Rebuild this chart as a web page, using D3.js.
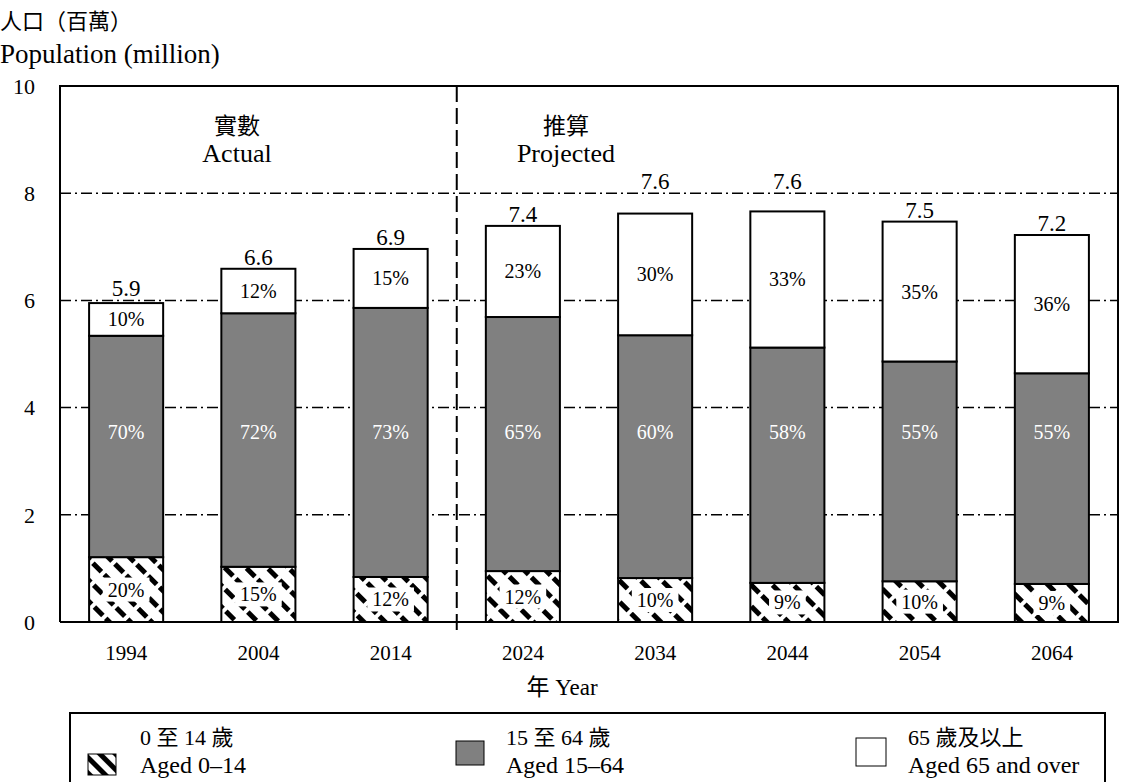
<!DOCTYPE html>
<meta charset="utf-8">
<head>
<style>
  body { margin: 0; background: #fff; }
  svg text { font-family: "Liberation Serif", "Noto Sans CJK TC", serif; fill: #000; }
</style>
</head>
<body>
<script src="https://cdn.jsdelivr.net/npm/d3@7"></script>
<script>

// population in millions
var years = ["1994", "2004", "2014", "2024", "2034", "2044", "2054", "2064"];
var aged0to14 = [1.21, 1.03, 0.84, 0.95, 0.82, 0.73, 0.76, 0.71];
var aged15to64 = [4.13, 4.73, 5.02, 4.74, 4.53, 4.39, 4.10, 3.93];
var aged65plus = [0.61, 0.83, 1.10, 1.70, 2.27, 2.54, 2.61, 2.58];
var totalLabels = ["5.9", "6.6", "6.9", "7.4", "7.6", "7.6", "7.5", "7.2"];
var pct0to14 = ["20%", "15%", "12%", "12%", "10%", "9%", "10%", "9%"];
var pct15to64 = ["70%", "72%", "73%", "65%", "60%", "58%", "55%", "55%"];
var pct65plus = ["10%", "12%", "15%", "23%", "30%", "33%", "35%", "36%"];
var yTicks = [0, 2, 4, 6, 8, 10];
var gridTicks = [2, 4, 6, 8];
var legendZh = ["0 至 14 歲", "15 至 64 歲", "65 歲及以上"];
var legendEn = ["Aged 0\u201314", "Aged 15\u201364", "Aged 65 and over"];

var W = 1121, H = 782;
var plotL = 60, plotR = 1118, plotT = 86, plotB = 622;

var svg = d3.select("body").append("svg")
    .attr("width", W)
    .attr("height", H);

var defs = svg.append("defs");
// broken diagonal stripes for the 0-14 part
var hatch = defs.append("pattern")
    .attr("id", "hatch")
    .attr("patternUnits", "userSpaceOnUse")
    .attr("width", 16).attr("height", 15)
    .attr("patternTransform", "rotate(45)");
hatch.append("rect").attr("width", 16).attr("height", 15).attr("fill", "#fff");
hatch.append("rect").attr("x", 0).attr("y", 0).attr("width", 12).attr("height", 5).attr("fill", "#000");

var hatch2 = defs.append("pattern")
    .attr("id", "hatchLegend")
    .attr("patternUnits", "userSpaceOnUse")
    .attr("width", 11).attr("height", 11)
    .attr("patternTransform", "translate(87,753) rotate(45)");
hatch2.append("rect").attr("width", 11).attr("height", 11).attr("fill", "#fff");
hatch2.append("rect").attr("width", 11).attr("height", 5).attr("fill", "#000");

var x = d3.scaleBand()
    .domain(years)
    .range([plotL, plotR])
    .paddingInner(0.44)
    .paddingOuter(0.22);

var y = d3.scaleLinear()
    .domain([0, 10])
    .range([plotB, plotT]);

// dash-dot grid lines
svg.append("g")
  .selectAll("line")
  .data(gridTicks)
  .enter().append("line")
    .attr("x1", plotL).attr("x2", plotR)
    .attr("y1", function(d) { return y(d); })
    .attr("y2", function(d) { return y(d); })
    .attr("stroke", "#000")
    .attr("stroke-width", 1.5)
    .attr("stroke-dasharray", "11,4,2,4");

// stacked bars
var rows = years.map(function(yr, i) {
  return { year: yr, young: aged0to14[i], working: aged15to64[i], old: aged65plus[i] };
});
var keys = ["young", "working", "old"];
var fills = { young: "url(#hatch)", working: "#808080", old: "#fff" };
var series = d3.stack().keys(keys)(rows);

svg.append("g")
  .selectAll("g")
  .data(series)
  .enter().append("g")
    .attr("fill", function(d) { return fills[d.key]; })
  .selectAll("rect")
  .data(function(d) { return d; })
  .enter().append("rect")
    .attr("x", function(d) { return x(d.data.year); })
    .attr("width", x.bandwidth())
    .attr("y", function(d) { return y(d[1]); })
    .attr("height", function(d) { return y(d[0]) - y(d[1]); })
    .attr("stroke", "#000")
    .attr("stroke-width", 2);

var cx = function(d) { return x(d.year) + x.bandwidth() / 2; };

// percentages in the hatched part, on a white box
var youngLab = svg.append("g")
  .selectAll("g")
  .data(rows)
  .enter().append("g");
youngLab.append("rect").attr("fill", "#fff");
youngLab.append("text")
    .attr("x", cx)
    .attr("y", function(d) { return y(d.young / 2); })
    .attr("dy", "0.35em")
    .attr("text-anchor", "middle")
    .style("font-size", "20px")
    .text(function(d, i) { return pct0to14[i]; });
youngLab.each(function() {
  var g = d3.select(this);
  var b = g.select("text").node().getBBox();
  g.select("rect")
    .attr("x", b.x - 5).attr("y", b.y - 1)
    .attr("width", b.width + 10).attr("height", b.height + 2);
});

// frame: left, top, right and baseline
svg.append("path")
    .attr("d", "M" + plotL + "," + plotB + "V" + plotT + "H" + plotR + "V" + plotB + "H" + plotL)
    .attr("fill", "none")
    .attr("stroke", "#000")
    .attr("stroke-width", 2);

// divider between actual and projected
var divX = (x("2014") + x.bandwidth() / 2 + x("2024") + x.bandwidth() / 2) / 2;
svg.append("line")
    .attr("x1", divX).attr("x2", divX)
    .attr("y1", plotT).attr("y2", plotB + 10)
    .attr("stroke", "#000")
    .attr("stroke-width", 2)
    .attr("stroke-dasharray", "16,6");

// y tick labels
svg.append("g")
  .selectAll("text")
  .data(yTicks)
  .enter().append("text")
    .attr("x", 35)
    .attr("y", function(d) { return y(d); })
    .attr("dy", "0.35em")
    .attr("text-anchor", "end")
    .style("font-size", "22px")
    .text(function(d) { return d; });

// x tick labels
svg.append("g")
  .selectAll("text")
  .data(years)
  .enter().append("text")
    .attr("x", function(d) { return x(d) + x.bandwidth() / 2; })
    .attr("y", 660)
    .attr("text-anchor", "middle")
    .style("font-size", "21px")
    .text(function(d) { return d; });

svg.append("text")
    .attr("x", 562).attr("y", 695)
    .attr("text-anchor", "middle")
    .style("font-size", "23px")
    .text("年  Year");

// axis title
svg.append("text").attr("x", 0).attr("y", 29).style("font-size", "22px").text("人口（百萬）");
svg.append("text").attr("x", 0).attr("y", 63).style("font-size", "27px").text("Population (million)");

// period labels
svg.append("text").attr("x", 237).attr("y", 134).attr("text-anchor", "middle").style("font-size", "23px").text("實數");
svg.append("text").attr("x", 237).attr("y", 162).attr("text-anchor", "middle").style("font-size", "26px").text("Actual");
svg.append("text").attr("x", 566).attr("y", 134).attr("text-anchor", "middle").style("font-size", "23px").text("推算");
svg.append("text").attr("x", 566).attr("y", 162).attr("text-anchor", "middle").style("font-size", "26px").text("Projected");

// totals above bars, nudged above a grid line when they would touch it
svg.append("g")
  .selectAll("text")
  .data(rows)
  .enter().append("text")
    .attr("x", cx)
    .attr("y", function(d) {
      var base = y(d.young + d.working + d.old) - 4;
      gridTicks.forEach(function(g) {
        if (y(g) > base - 18 && y(g) < base + 4) base = y(g) - 4;
      });
      return base;
    })
    .attr("text-anchor", "middle")
    .style("font-size", "23px")
    .text(function(d, i) { return totalLabels[i]; });

svg.append("g")
  .selectAll("text")
  .data(rows)
  .enter().append("text")
    .attr("x", cx)
    .attr("y", y(3.55))
    .attr("dy", "0.35em")
    .attr("text-anchor", "middle")
    .style("font-size", "20px")
    .style("fill", "#fff")
    .text(function(d, i) { return pct15to64[i]; });

svg.append("g")
  .selectAll("text")
  .data(rows)
  .enter().append("text")
    .attr("x", cx)
    .attr("y", function(d) { return y(d.young + d.working + d.old / 2); })
    .attr("dy", "0.35em")
    .attr("text-anchor", "middle")
    .style("font-size", "20px")
    .text(function(d, i) { return pct65plus[i]; });

// legend
svg.append("rect")
    .attr("x", 70).attr("y", 713)
    .attr("width", 1035).attr("height", 90)
    .attr("fill", "none")
    .attr("stroke", "#000")
    .attr("stroke-width", 2);

var legendItems = [
  { fill: "url(#hatchLegend)", bx: 88, by: 754, bw: 28, bh: 21, tx: 140 },
  { fill: "#808080", bx: 456, by: 741, bw: 28, bh: 24, tx: 506 },
  { fill: "#fff", bx: 856, by: 738, bw: 30, bh: 28, tx: 908 }
];
var lg = svg.append("g")
  .selectAll("g")
  .data(legendItems)
  .enter().append("g");
lg.append("rect")
    .attr("x", function(d) { return d.bx; })
    .attr("y", function(d) { return d.by; })
    .attr("width", function(d) { return d.bw; })
    .attr("height", function(d) { return d.bh; })
    .attr("fill", function(d) { return d.fill; })
    .attr("stroke", "#000")
    .attr("stroke-width", 1);
lg.append("text")
    .attr("x", function(d) { return d.tx; })
    .attr("y", 745)
    .style("font-size", "22px")
    .text(function(d, i) { return legendZh[i]; });
lg.append("text")
    .attr("x", function(d) { return d.tx; })
    .attr("y", 773)
    .style("font-size", "24px")
    .text(function(d, i) { return legendEn[i]; });

</script>
</body>
